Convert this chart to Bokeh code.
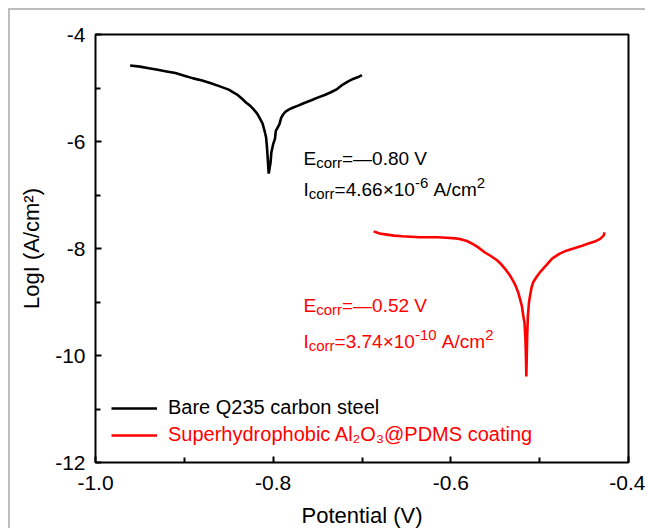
from bokeh.plotting import figure
from bokeh.models import FixedTicker, Label, Legend, LegendItem
from bokeh.embed import file_html
from bokeh.resources import INLINE

# ---------------- data ----------------
bare_potential = [-0.961, -0.950, -0.940, -0.930, -0.920, -0.910, -0.900, -0.890, -0.880,
                  -0.870, -0.860, -0.850, -0.845, -0.840, -0.835, -0.830, -0.826, -0.822,
                  -0.818, -0.815, -0.812, -0.810, -0.808, -0.807, -0.806, -0.805, -0.803,
                  -0.802, -0.800, -0.798, -0.797, -0.795, -0.793, -0.791, -0.789, -0.786,
                  -0.782, -0.778, -0.772, -0.765, -0.757, -0.750, -0.742, -0.735, -0.728,
                  -0.722, -0.716, -0.710, -0.705, -0.700]
bare_logi = [-4.58, -4.60, -4.63, -4.66, -4.69, -4.72, -4.77, -4.82, -4.86,
             -4.91, -4.97, -5.03, -5.08, -5.13, -5.20, -5.28, -5.33, -5.40,
             -5.48, -5.57, -5.66, -5.78, -5.92, -6.10, -6.35, -6.60, -6.40,
             -6.20, -6.05, -5.95, -5.80, -5.74, -5.68, -5.56, -5.50, -5.44,
             -5.40, -5.37, -5.33, -5.28, -5.23, -5.18, -5.13, -5.08, -5.02,
             -4.94, -4.88, -4.83, -4.80, -4.76]

coat_potential = [-0.687, -0.680, -0.672, -0.664, -0.655, -0.645, -0.635, -0.625, -0.615,
                  -0.605, -0.595, -0.588, -0.582, -0.576, -0.570, -0.562, -0.555, -0.548,
                  -0.543, -0.538, -0.534, -0.530, -0.527, -0.524, -0.522, -0.520, -0.5185,
                  -0.517, -0.516, -0.5155, -0.515, -0.5145, -0.514, -0.5132, -0.512, -0.5105,
                  -0.509, -0.507, -0.503, -0.499, -0.493, -0.486, -0.478, -0.470, -0.462,
                  -0.454, -0.446, -0.438, -0.432, -0.428, -0.427]
coat_logi = [-7.68, -7.72, -7.74, -7.76, -7.77, -7.78, -7.79, -7.79, -7.79,
             -7.80, -7.81, -7.83, -7.86, -7.91, -7.97, -8.07, -8.14, -8.22,
             -8.30, -8.40, -8.49, -8.60, -8.70, -8.83, -8.95, -9.08, -9.25,
             -9.40, -9.70, -10.00, -10.39, -10.00, -9.60, -9.25, -9.00, -8.85,
             -8.72, -8.62, -8.52, -8.43, -8.32, -8.19, -8.10, -8.04, -8.00,
             -7.96, -7.91, -7.87, -7.82, -7.76, -7.70]

x_major = [-1.0, -0.8, -0.6, -0.4]
x_minor = [-0.9, -0.7, -0.5]
x_labels = ["-1.0", "-0.8", "-0.6", "-0.4"]
y_major = [-12, -10, -8, -6, -4]
y_minor = [-11, -9, -7, -5]
y_labels = ["-12", "-10", "-8", "-6", "-4"]

x_title = "Potential (V)"
y_title = "LogI (A/cm\u00b2)"
legend_bare = "Bare Q235 carbon steel"
legend_coat = "Superhydrophobic Al\u2082O\u2083@PDMS coating"

FONT = "Liberation Sans"
RED = "#ff0000"

p = figure(width=637, height=520, x_range=(-1.0, -0.4), y_range=(-12, -4),
           output_backend="svg", toolbar_location=None,
           min_border_left=85, min_border_right=19, min_border_top=24, min_border_bottom=67)
p.styles = {"margin-left": "8px", "margin-top": "8px",
            "border-left": "2px solid #bdbdbd", "border-top": "2px solid #bdbdbd"}
p.grid.visible = False
p.outline_line_color = "black"
p.outline_line_width = 2
p.background_fill_color = "white"
p.border_fill_color = "white"

r_bare = p.line(bare_potential, bare_logi, line_color="black", line_width=2.6)
r_coat = p.line(coat_potential, coat_logi, line_color=RED, line_width=2.6)

for ax in (p.xaxis[0], p.yaxis[0]):
    ax.axis_line_color = None
    ax.major_tick_in = 6
    ax.major_tick_out = 0
    ax.minor_tick_in = 5
    ax.minor_tick_out = 0
    ax.major_tick_line_width = 2
    ax.minor_tick_line_width = 2
    ax.major_label_text_font = FONT
    ax.major_label_text_font_size = "21px"
    ax.major_label_text_color = "black"
    ax.axis_label_text_font = FONT
    ax.axis_label_text_font_size = "22px"
    ax.axis_label_text_font_style = "normal"
    ax.axis_label_text_color = "black"

p.xaxis[0].ticker = FixedTicker(ticks=x_major, minor_ticks=x_minor)
p.xaxis[0].major_label_overrides = dict(zip(x_major, x_labels))
p.xaxis[0].major_label_standoff = 13
p.xaxis[0].axis_label = x_title
p.xaxis[0].axis_label_standoff = 10

p.yaxis[0].ticker = FixedTicker(ticks=y_major, minor_ticks=y_minor)
p.yaxis[0].major_label_overrides = dict(zip(y_major, y_labels))
p.yaxis[0].major_label_standoff = 10
p.yaxis[0].axis_label = y_title
p.yaxis[0].axis_label_standoff = 8

def make_legend(item_label, renderer, color, loc):
    lg = Legend(items=[LegendItem(label=item_label, renderers=[renderer])],
                location=loc, padding=0, margin=0, border_line_color=None,
                background_fill_alpha=0, label_text_font=FONT,
                label_text_font_size="20px", label_text_color=color,
                glyph_width=46, glyph_height=20, label_height=20,
                label_standoff=11, spacing=0)
    p.add_layout(lg, "center")

make_legend(legend_bare, r_bare, "black", (16, 43))
make_legend(legend_coat, r_coat, RED, (16, 16))

# ---------------- annotations (screen units from frame bottom-left) ----------------
MAIN = 19
SUB = 15
WIDTHS = {'E': 667, 'I': 278, 'c': 500, 'o': 556, 'r': 333, '=': 584, '\u2014': 1000,
          '.': 278, ' ': 278, 'V': 667, '\u00d7': 584, 'A': 667, '/': 278, 'm': 833, '-': 333}

def w(s, size):
    return sum(WIDTHS.get(ch, 556) for ch in s) * size / 1000.0

def rich_line(parts, x0, y0, color):
    x = x0
    for text, kind in parts:
        size = MAIN if kind == "n" else SUB
        dy = 0 if kind == "n" else (-4 if kind == "sub" else 7)
        lead = len(text) - len(text.lstrip(" "))
        x += w(" " * lead, size)
        body = text.lstrip(" ")
        p.add_layout(Label(x=x, y=y0 + dy, x_units="screen", y_units="screen", text=body,
                           text_font=FONT, text_font_size=f"{size}px", text_color=color,
                           text_baseline="alphabetic", text_align="left"))
        x += w(body, size)

frame_left, frame_bottom = 95, 463
e_bare = [("E", "n"), ("corr", "sub"), ("=\u20140.80 V", "n")]
i_bare = [("I", "n"), ("corr", "sub"), ("=4.66\u00d710", "n"), ("-6", "sup"), (" A/cm", "n"), ("2", "sup")]
e_coat = [("E", "n"), ("corr", "sub"), ("=\u20140.52 V", "n")]
i_coat = [("I", "n"), ("corr", "sub"), ("=3.74\u00d710", "n"), ("-10", "sup"), (" A/cm", "n"), ("2", "sup")]

rich_line(e_bare, 303 - frame_left, frame_bottom - 159, "black")
rich_line(i_bare, 303 - frame_left, frame_bottom - 190, "black")
rich_line(e_coat, 303 - frame_left, frame_bottom - 306, RED)
rich_line(i_coat, 303 - frame_left, frame_bottom - 342, RED)

open("out.html", "w").write(file_html(p, INLINE))
